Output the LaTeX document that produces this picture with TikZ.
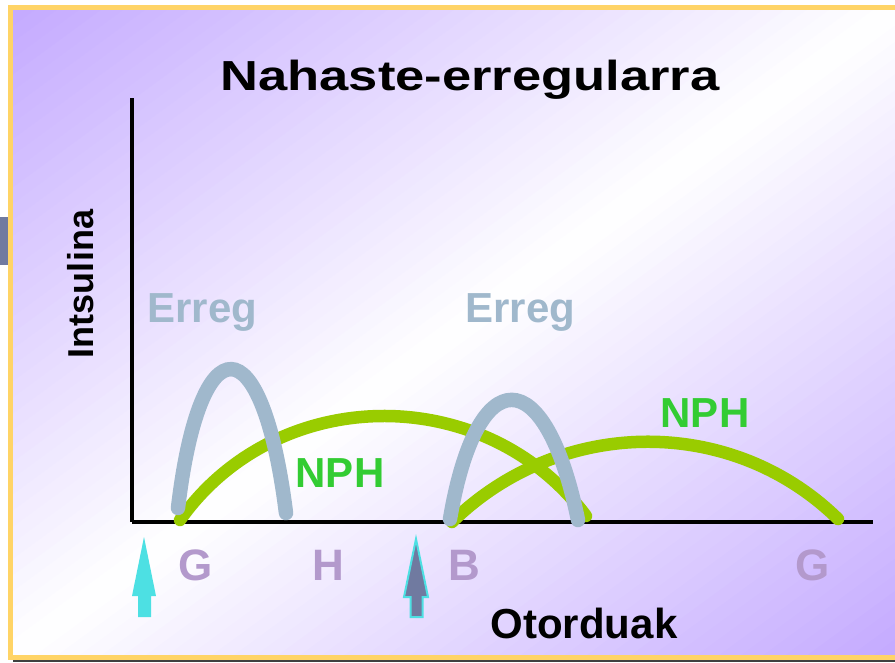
\documentclass[tikz,border=0pt]{standalone}
\usepackage{fontspec}
\setmainfont{Liberation Sans}
\definecolor{slidepurple}{RGB}{196,170,255}
\definecolor{frameyellow}{RGB}{255,212,102}
\definecolor{regblue}{RGB}{160,184,204}
\definecolor{nphgreen}{RGB}{153,204,0}
\definecolor{nphtext}{RGB}{51,204,51}
\definecolor{mealpurple}{RGB}{179,153,204}
\definecolor{shotcyan}{RGB}{77,224,227}
\definecolor{shotslate}{RGB}{112,122,160}

\begin{document}
\begin{tikzpicture}[
  x=1pt, y=-1pt,
  lbl/.style={font=\fontsize{42}{48}\selectfont\bfseries, inner sep=0pt, anchor=base},
  titlelbl/.style={lbl, font=\fontsize{42}{48}\selectfont\bfseries},
  meal/.style={lbl, font=\fontsize{44}{50}\selectfont\bfseries, text=mealpurple},
  rapid/.style={draw=regblue, line width=14.5pt, line cap=round},
  slow/.style={draw=nphgreen, line width=12.5pt, line cap=round},
  axisline/.style={draw=black, line width=3.5pt},
  shot/.style={fill=shotcyan}
]
\useasboundingbox (0,0) rectangle (895,662);
\clip (0,0) rectangle (895,662);
\fill[white] (0,0) rectangle (895,662);
\fill[shotslate] (0,217) rectangle (8,265);
% diagonal purple-white-purple background, in strips
\begin{scope}
  \clip (13,10) rectangle (895,655);
  \foreach \k in {0,...,79} {
    \pgfmathsetmacro{\sa}{-521+\k*13.025}
    \pgfmathsetmacro{\sb}{\sa+14.5}
    \pgfmathsetmacro{\mix}{abs(\sa+6.5)/521*100}
    \pgfmathsetmacro{\xa}{454-0.591*\sa}
    \pgfmathsetmacro{\ya}{332.5-0.807*\sa}
    \pgfmathsetmacro{\xb}{454-0.591*\sb}
    \pgfmathsetmacro{\yb}{332.5-0.807*\sb}
    \fill[slidepurple!\mix!white] (\xa+564.9,\ya-413.7) -- (\xb+564.9,\yb-413.7)
      -- (\xb-564.9,\yb+413.7) -- (\xa-564.9,\ya+413.7) -- cycle;
  }
\end{scope}
\draw[frameyellow, line width=5pt] (10.5,7.5) rectangle (910,657);
\draw[black!75, line width=2.5pt] (13,661) -- (895,661);

\node[titlelbl] (title) at (470,90) {\scalebox{1.25}[1]{Nahaste-erregularra}};

\coordinate (origin) at (132,522);
\coordinate (ytop) at (132,98);
\coordinate (xend) at (873,522);
\draw[axisline] (ytop) -- (origin);
\draw[axisline] (origin) -- (xend);

\draw[slow] (180,520) .. controls (277,383) and (485,381) .. (586,516);
\draw[slow] (452,522) .. controls (559,417) and (731,414) .. (838,519);
\draw[rapid] (178,508) .. controls (200,322) and (262,322) .. (286,513);
\draw[rapid] (450,519) .. controls (477,360) and (545,360) .. (578,520);

\node[lbl, font=\fontsize{36}{42}\selectfont\bfseries, rotate=90] (ylabel) at (93,284) {Intsulina};
\node[lbl, text=regblue] (reg1) at (202.5,322) {Erreg};
\node[lbl, text=regblue] (reg2) at (520.5,322) {Erreg};
\node[lbl, text=nphtext] (nph1) at (340,487) {NPH};
\node[lbl, text=nphtext] (nph2) at (705,427) {NPH};

\node[meal] (meal1) at (196,580) {G};
\node[meal] (meal2) at (328,580) {H};
\node[meal] (meal3) at (464,580) {B};
\node[meal] (meal4) at (813,580) {G};
\node[lbl] (xlabel) at (584,638) {Otorduak};

\fill[shot] (144,537) -- (156,596) -- (151,596) -- (151,617) -- (138,617)
  -- (138,596) -- (132,596) -- cycle;
\filldraw[fill=shotslate, draw=shotcyan, line width=2pt] (416,539) -- (428,597)
  -- (422.5,597) -- (422.5,617) -- (410.5,617) -- (410.5,597) -- (404,597) -- cycle;
\end{tikzpicture}
\end{document}
